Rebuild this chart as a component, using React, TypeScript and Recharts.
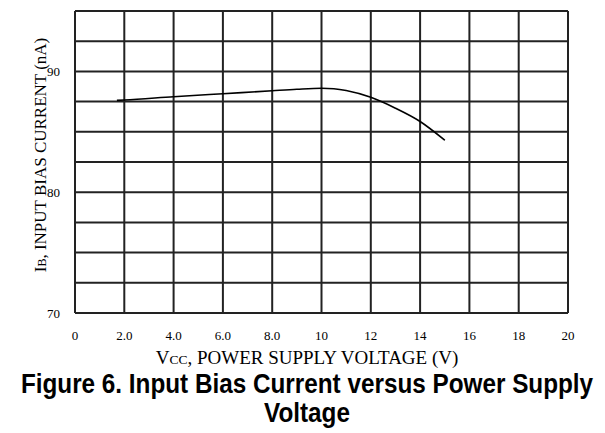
import React from 'react';
import { LineChart, Line, XAxis, YAxis, CartesianGrid } from 'recharts';

// Vcc (V) vs input bias current (nA)
const vcc = [1.7, 2, 4, 6, 8, 9, 10, 10.5, 11, 12, 13, 14, 15];
const ibias = [87.6, 87.63, 87.9, 88.15, 88.4, 88.52, 88.6, 88.56, 88.42, 87.85, 86.95, 85.85, 84.3];

const xTicks = [0, 2, 4, 6, 8, 10, 12, 14, 16, 18, 20];
const xTickLabels = ['0', '2.0', '4.0', '6.0', '8.0', '10', '12', '14', '16', '18', '20'];
const yTicks = [70, 72.5, 75, 77.5, 80, 82.5, 85, 87.5, 90, 92.5, 95];
const yTickLabels = ['70', '', '', '', '80', '', '', '', '90', '', ''];

const titleLines = ['Figure 6. Input Bias Current versus Power Supply', 'Voltage'];

const data = vcc.map((v, i) => ({ vcc: v, ib: ibias[i] }));

const serif = '"Liberation Serif", "Times New Roman", serif';

function YLabel() {
  const cx = 46;
  const cy = 155;
  return (
    <text
      x={cx}
      y={cy}
      transform={`rotate(-90, ${cx}, ${cy})`}
      textAnchor="middle"
      fontFamily={serif}
      fontSize={17}
      fill="#000"
    >
      I<tspan fontSize={12}>B</tspan>, INPUT BIAS CURRENT (nA)
    </text>
  );
}

function XLabel() {
  return (
    <text x={307} y={364} textAnchor="middle" fontFamily={serif} fontSize={19} fill="#000">
      V<tspan fontSize={13.5}>CC</tspan>, POWER SUPPLY VOLTAGE (V)
    </text>
  );
}

export default function App() {
  return (
    <div style={{ position: 'absolute', left: 0, top: 0, width: 605, height: 433, background: '#fff' }}>
      <LineChart
        width={605}
        height={370}
        data={data}
        margin={{ top: 11, right: 37, bottom: 0, left: 0 }}
      >
        <CartesianGrid stroke="#222" strokeWidth={2} />
        <XAxis
          type="number"
          dataKey="vcc"
          domain={[0, 20]}
          ticks={xTicks}
          tickFormatter={(v: number) => xTickLabels[xTicks.indexOf(v)]}
          tickLine={false}
          axisLine={{ stroke: '#222', strokeWidth: 2 }}
          tick={{ fontFamily: serif, fontSize: 13, fill: '#000' }}
          tickMargin={12}
          height={57}
          label={<XLabel />}
          interval={0}
        />
        <YAxis
          type="number"
          domain={[70, 95]}
          ticks={yTicks}
          tickFormatter={(v: number) => yTickLabels[yTicks.indexOf(v)]}
          tickLine={false}
          axisLine={{ stroke: '#222', strokeWidth: 2 }}
          tick={{ fontFamily: serif, fontSize: 13, fill: '#000' }}
          tickMargin={9}
          width={75}
          label={<YLabel />}
          interval={0}
        />
        <Line
          type="monotone"
          dataKey="ib"
          stroke="#000"
          strokeWidth={1.6}
          dot={false}
          isAnimationActive={false}
        />
      </LineChart>
      {/* caption, squeezed horizontally like the narrow bold face of the original */}
      <svg width={605} height={63} style={{ position: 'absolute', left: 0, top: 370 }}>
        <g transform="translate(307, 0) scale(0.9, 1)">
          <text
            x={0}
            y={23}
            textAnchor="middle"
            fontFamily='"Liberation Sans", Arial, sans-serif'
            fontWeight="bold"
            fontSize={27}
            fill="#000"
          >
            {titleLines[0]}
          </text>
          <text
            x={0}
            y={52}
            textAnchor="middle"
            fontFamily='"Liberation Sans", Arial, sans-serif'
            fontWeight="bold"
            fontSize={27}
            fill="#000"
          >
            {titleLines[1]}
          </text>
        </g>
      </svg>
    </div>
  );
}
